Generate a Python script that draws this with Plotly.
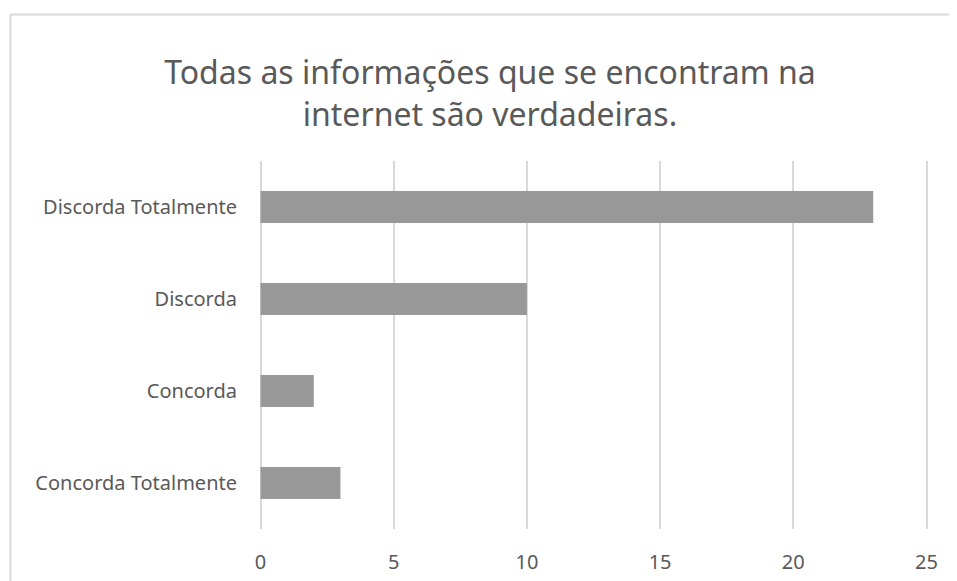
import plotly.graph_objects as go

# data
categories = ["Concorda Totalmente", "Concorda", "Discorda", "Discorda Totalmente"]
counts = [3, 2, 10, 23]
x_ticks = [0, 5, 10, 15, 20, 25]
title_text = "Todas as informações que se encontram na<br>internet são verdadeiras."

# page has an 8px body margin, so the figure is drawn 8px smaller and shifted
OFF = 8
W, H = 957 - OFF, 581 - OFF
pad = 1.5  # small padding so the gridlines at 0 and 25 are kept
L, R, T, B = 260 - OFF - pad, 30 - pad, 161 - OFF, 52
text_col = "#595959"
grid_col = "#d9d9d9"
bar_col = "#989898"
font_family = "Noto Sans, Open Sans, sans-serif"

x_lo = -pad * 25 / 667
x_hi = 25 + pad * 25 / 667

fig = go.Figure()
fig.add_bar(
    y=categories, x=counts, orientation="h",
    marker=dict(color=bar_col, line=dict(width=0)),
    width=0.35,
)

# outer chart border (only top and left visible in the original crop)
pw, ph = W - L - R, H - T - B
left_x = (9.5 - OFF - L) / pw
top_y = 1 + (T - (14.5 - OFF)) / ph
fig.add_shape(type="line", xref="paper", yref="paper",
              x0=left_x, x1=(W - L + 5) / pw, y0=top_y, y1=top_y,
              line=dict(color=grid_col, width=2))
fig.add_shape(type="line", xref="paper", yref="paper",
              x0=left_x, x1=left_x, y0=top_y, y1=-(B + 5) / ph,
              line=dict(color=grid_col, width=2))

fig.update_layout(
    width=W, height=H,
    margin=dict(l=L, r=R, t=T, b=B, autoexpand=False),
    paper_bgcolor="white", plot_bgcolor="white",
    showlegend=False,
    font=dict(family=font_family, color=text_col, size=20),
    title=dict(text=title_text, x=(490 - OFF) / W, xanchor="center",
               y=1 - (84 - OFF) / H, yanchor="middle", yref="container",
               font=dict(size=32, color=text_col)),
    xaxis=dict(range=[x_lo, x_hi], tickvals=x_ticks, showgrid=True,
               gridcolor=grid_col, gridwidth=2, zeroline=True,
               zerolinecolor=grid_col, zerolinewidth=2,
               showline=False, ticklabelstandoff=19,
               tickfont=dict(size=20)),
    yaxis=dict(showgrid=False, zeroline=False, showline=False,
               ticklabelstandoff=21, tickfont=dict(size=20)),
)

fig.write_html("out.html")
